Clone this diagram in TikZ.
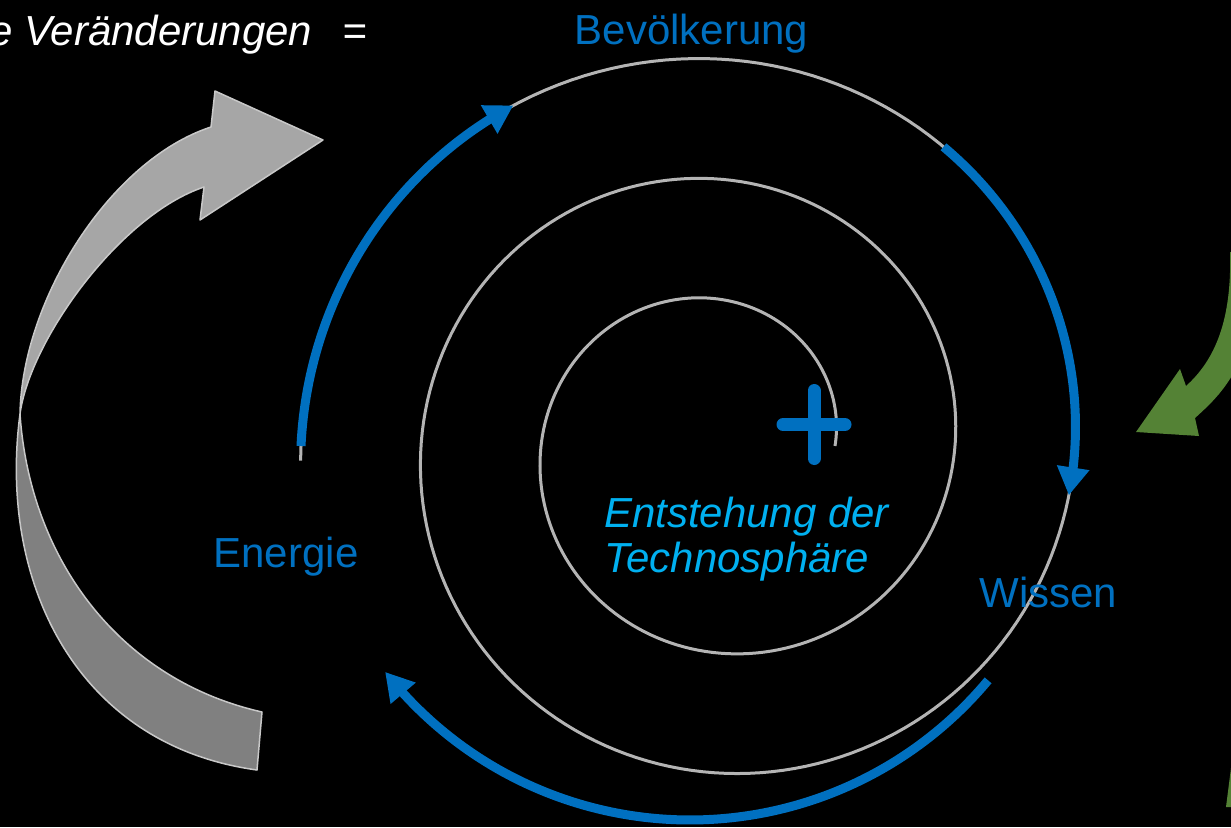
\documentclass[tikz,border=0pt]{standalone}
\usepackage{fontspec}
\setmainfont{Liberation Sans}
\usetikzlibrary{arrows.meta}
\definecolor{pblue}{RGB}{0,112,192}
\definecolor{pcyan}{RGB}{0,176,240}
\definecolor{spgray}{RGB}{180,180,180}
\definecolor{agreen}{RGB}{84,130,53}
\definecolor{alight}{RGB}{166,166,166}
\definecolor{adark}{RGB}{128,128,128}
\definecolor{aedge}{RGB}{200,200,200}
\begin{document}
\begin{tikzpicture}[x=1pt,y=-1pt,
  lbl/.style={text=pblue,font=\fontsize{42}{48}\selectfont,inner sep=0pt,anchor=base},
  itl/.style={font=\fontsize{42}{48}\selectfont\itshape,inner sep=0pt},
  spiralline/.style={draw=spgray,line width=3pt},
  barrow/.style={draw=pblue,line width=9pt,-{Triangle[length=28pt,width=31pt]}},
  ribbon/.style={draw=aedge,line width=1.5pt,line join=round},
  plusbar/.style={draw=pblue,line width=13pt,line cap=round}]
\useasboundingbox (0,0) rectangle (1231,827);
\fill[black] (0,0) rectangle (1231,827);
\clip (0,0) rectangle (1231,827);

% big grey curved arrow (twisted ribbon)
\filldraw[ribbon,fill=adark] (20,414) .. controls (-2,580) and (75,745) .. (257,770)
  -- (262,712) .. controls (120,680) and (30,560) .. (20,414) -- cycle;
\filldraw[ribbon,fill=alight] (20,414) .. controls (22,300) and (110,160) .. (211,127)
  -- (215,91) -- (323,140) -- (200,220) -- (204,187)
  .. controls (120,215) and (30,340) .. (20,414) -- cycle;

% green arrows (partly outside)
\fill[agreen] (1230,252) .. controls (1232,320) and (1215,360) .. (1186,386)
  -- (1180,369) -- (1136,432) -- (1199,436) -- (1195,418)
  .. controls (1215,400) and (1230,385) .. (1245,350) -- (1245,252) -- cycle;
\fill[agreen] (1231,768) -- (1226,807) -- (1240,807) -- (1240,768) -- cycle;

% grey spiral
\draw[spiralline] plot[domain=0:902,samples=451,variable=\t]
  ({718+(117+\t/3)*cos(\t)},{446-(117+\t/3)*sin(\t)});

% blue arrows
\coordinate (ltip) at ({718+(117+841/3)*cos(841)},{446-(117+841/3)*sin(841)});
\coordinate (rtip) at ({718+(117+712/3)*cos(712)},{446-(117+712/3)*sin(712)});
\coordinate (btip) at ({690+388*cos(-141.8)},{432-388*sin(-141.8)});
\draw[barrow] plot[domain=900:845,samples=56,variable=\t]
  ({718+(117+\t/3)*cos(\t)},{446-(117+\t/3)*sin(\t)}) -- (ltip);
\draw[barrow] plot[domain=773:716.5,samples=57,variable=\t]
  ({718+(117+\t/3)*cos(\t)},{446-(117+\t/3)*sin(\t)}) -- (rtip);
\draw[barrow] plot[domain=-39.8:-137.7,samples=99,variable=\t]
  ({690+388*cos(\t)},{432-388*sin(\t)}) -- (btip);

% plus sign
\coordinate (pc) at (814,424.5);
\draw[plusbar] ([yshift=-34pt]pc) -- ([yshift=34pt]pc);
\draw[plusbar] ([xshift=-31pt]pc) -- ([xshift=31pt]pc);

% texts
\node[itl,text=white,anchor=base west] (veraend) at (-11,45) {e Veränderungen\hspace{30pt}=};
\node[lbl] (bevoelk) at (691.5,44) {Bevölkerung};
\node[lbl] (energie) at (286,567) {Energie};
\node[lbl] (wissen) at (1048.5,607) {Wissen};
\node[itl,text=pcyan,anchor=base] (entst) at (746.5,527) {Entstehung der};
\node[itl,text=pcyan,anchor=base] (techno) at (737,572) {Technosphäre};
\end{tikzpicture}
\end{document}
